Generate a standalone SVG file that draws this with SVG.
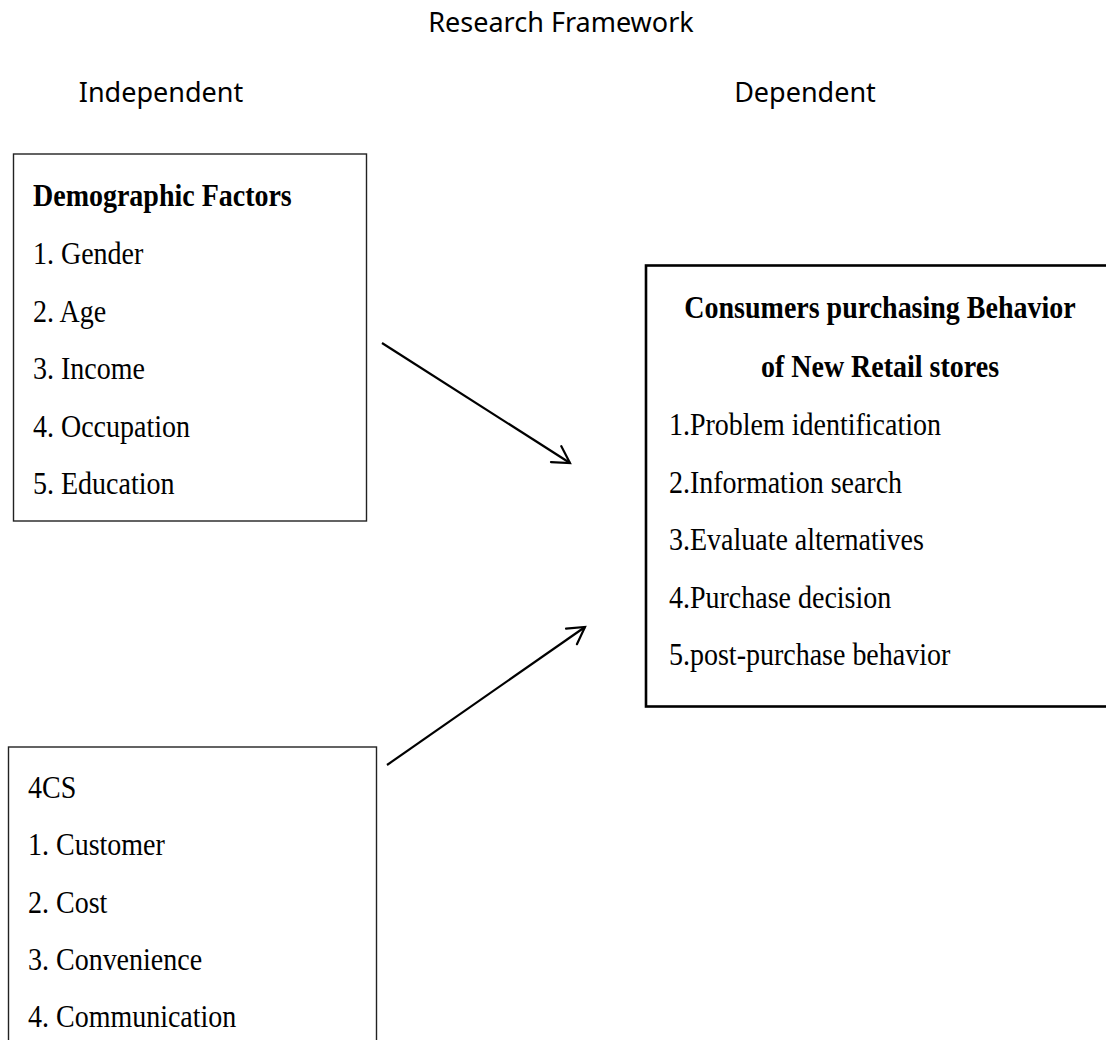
<svg xmlns="http://www.w3.org/2000/svg" width="1106" height="1040" viewBox="0 0 1106 1040">
<style>
.hdr{font-family:"Noto Sans","Open Sans","DejaVu Sans",sans-serif;font-size:27px;fill:#000}
.t{font-family:"Liberation Serif","Times New Roman",serif;font-size:32px;fill:#000}
.b{font-weight:bold}
.box{fill:none;stroke:#222;stroke-width:1.4}
.box2{fill:none;stroke:#000;stroke-width:2.6}
.arr{fill:none;stroke:#000;stroke-width:2.2;marker-end:url(#ah)}
</style>
<defs>
<marker id="ah" markerUnits="userSpaceOnUse" orient="auto" refX="0" refY="0" markerWidth="40" markerHeight="40" viewBox="-20 -20 40 40" overflow="visible">
<path d="M-16.5,-9.5 L0,0 L-16.5,9.5" fill="none" stroke="#000" stroke-width="2.2" stroke-linecap="round" stroke-linejoin="miter"/>
</marker>
</defs>
<rect width="1106" height="1040" fill="#fff"/>
<g id="title">
<text class="hdr" x="561" y="32" text-anchor="middle">Research Framework</text>
<text class="hdr" x="161" y="102" text-anchor="middle">Independent</text>
<text class="hdr" x="805" y="102" text-anchor="middle">Dependent</text>
</g>
<g id="demographic">
<rect class="box" x="13.5" y="154" width="353" height="367"/>
<text class="t b" transform="translate(33 206) scale(0.875 1)">Demographic Factors</text>
<text class="t" transform="translate(33 264) scale(0.875 1)">1. Gender</text>
<text class="t" transform="translate(33 322) scale(0.875 1)">2. Age</text>
<text class="t" transform="translate(33 379) scale(0.875 1)">3. Income</text>
<text class="t" transform="translate(33 437) scale(0.875 1)">4. Occupation</text>
<text class="t" transform="translate(33 494) scale(0.875 1)">5. Education</text>
</g>
<g id="fourcs">
<rect class="box" x="8.5" y="747" width="368" height="320"/>
<text class="t" transform="translate(28 798) scale(0.875 1)">4CS</text>
<text class="t" transform="translate(28 855) scale(0.875 1)">1. Customer</text>
<text class="t" transform="translate(28 913) scale(0.875 1)">2. Cost</text>
<text class="t" transform="translate(28 970) scale(0.875 1)">3. Convenience</text>
<text class="t" transform="translate(28 1027) scale(0.875 1)">4. Communication</text>
</g>
<g id="behavior">
<rect class="box2" x="646" y="265.5" width="480" height="441"/>
<text class="t b" transform="translate(880 318) scale(0.875 1)" text-anchor="middle">Consumers purchasing Behavior</text>
<text class="t b" transform="translate(880 377) scale(0.875 1)" text-anchor="middle">of New Retail stores</text>
<text class="t" transform="translate(669 435) scale(0.875 1)">1.Problem identification</text>
<text class="t" transform="translate(669 493) scale(0.875 1)">2.Information search</text>
<text class="t" transform="translate(669 550) scale(0.875 1)">3.Evaluate alternatives</text>
<text class="t" transform="translate(669 608) scale(0.875 1)">4.Purchase decision</text>
<text class="t" transform="translate(669 665) scale(0.875 1)">5.post-purchase behavior</text>
</g>
<g id="connectors">
<line class="arr" x1="382" y1="343" x2="570" y2="463"/>
<line class="arr" x1="387" y1="765" x2="585" y2="627"/>
</g>
</svg>
